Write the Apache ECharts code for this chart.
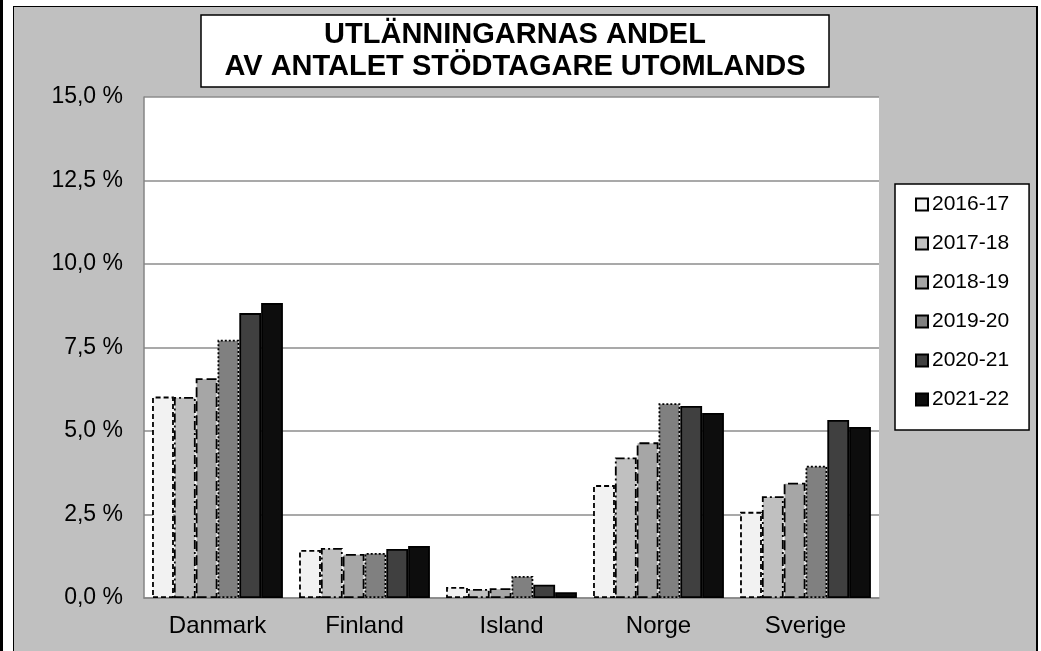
<!DOCTYPE html>
<html>
<head>
<meta charset="utf-8">
<script src="https://cdn.jsdelivr.net/npm/echarts@6/dist/echarts.min.js"></script>
<style>
  body { margin:0; background:#fff; }
  .leftline { position:absolute; left:0; top:0; width:3px; height:651px; background:#000; }
  .frame { position:absolute; left:13px; top:6px; width:1022px; height:650px; background:#c0c0c0;
           border-top:1px solid #000; border-left:1px solid #000; border-right:2px solid #000; }
  #chart { position:absolute; left:0; top:0; width:1041px; height:651px; }
</style>
</head>
<body>
<div class="leftline"></div>
<div class="frame"></div>
<div id="chart"></div>
<script>
// data (share in %)
var categories = ['Danmark', 'Finland', 'Island', 'Norge', 'Sverige'];
var seasons = ['2016-17', '2017-18', '2018-19', '2019-20', '2020-21', '2021-22'];
var v2016_17 = [6.03, 1.44, 0.33, 3.38, 2.58];
var v2017_18 = [6.02, 1.50, 0.27, 4.21, 3.05];
var v2018_19 = [6.58, 1.32, 0.29, 4.66, 3.45];
var v2019_20 = [7.73, 1.35, 0.66, 5.83, 3.96];
var v2020_21 = [8.53, 1.47, 0.40, 5.75, 5.33];
var v2021_22 = [8.83, 1.56, 0.17, 5.54, 5.12];
var yTicks = [0, 2.5, 5, 7.5, 10, 12.5, 15];

var values = [v2016_17, v2017_18, v2018_19, v2019_20, v2020_21, v2021_22];
var fills = ['#f2f2f2', '#c0c0c0', '#a6a6a6', '#808080', '#404040', '#0d0d0d'];
var borders = [[5, 3], [9, 3, 2, 3], [10, 4], [2, 2], 'solid', 'solid'];
var font = '"Liberation Sans", Arial, sans-serif';

var series = [];
for (var i = 0; i < seasons.length; i++) {
  series.push({
    name: seasons[i],
    type: 'bar',
    barGap: '0%',
    barCategoryGap: '11%',
    itemStyle: {
      color: fills[i],
      borderColor: '#000',
      borderWidth: 1.8,
      borderType: borders[i]
    },
    emphasis: { disabled: true },
    data: values[i]
  });
}

var chart = echarts.init(document.getElementById('chart'));
var option = {
  backgroundColor: 'transparent',
  animation: false,
  title: {
    text: 'UTLÄNNINGARNAS ANDEL\nAV ANTALET STÖDTAGARE UTOMLANDS',
    left: 491,
    top: 15,
    padding: [4, 24, 4, 24],
    backgroundColor: '#fff',
    borderColor: '#000',
    borderWidth: 1.5,
    textAlign: 'center',
    textStyle: {
      fontFamily: font,
      fontSize: 29,
      fontWeight: 'bold',
      color: '#000',
      lineHeight: 32
    }
  },
  legend: {
    orient: 'vertical',
    left: 895,
    top: 184,
    width: 110,
    padding: [10, 20, 20, 20],
    itemGap: 18,
    itemWidth: 12,
    itemHeight: 12,
    icon: 'rect',
    backgroundColor: '#fff',
    borderColor: '#000',
    borderWidth: 1.5,
    data: seasons,
    textStyle: { fontFamily: font, fontSize: 21, color: '#000', padding: [0, 0, 0, -1] }
  },
  grid: {
    left: 144,
    right: 162,
    top: 97,
    bottom: 53,
    show: true,
    backgroundColor: '#fff',
    borderWidth: 0
  },
  xAxis: {
    type: 'category',
    data: categories,
    axisLine: { lineStyle: { color: '#868686', width: 1.5 } },
    axisTick: { show: false },
    axisLabel: { fontFamily: font, fontSize: 24, color: '#000', margin: 16 }
  },
  yAxis: {
    type: 'value',
    min: yTicks[0],
    max: yTicks[yTicks.length - 1],
    interval: 2.5,
    axisLine: { show: true, lineStyle: { color: '#868686', width: 1.5 } },
    axisTick: { show: false },
    splitLine: { lineStyle: { color: '#8c8c8c', width: 1.5 } },
    axisLabel: {
      fontFamily: font,
      fontSize: 23,
      color: '#000',
      margin: 21,
      formatter: function (v) { return v.toFixed(1).replace('.', ',') + ' %'; }
    }
  },
  series: series
};
chart.setOption(option);
</script>
</body>
</html>
